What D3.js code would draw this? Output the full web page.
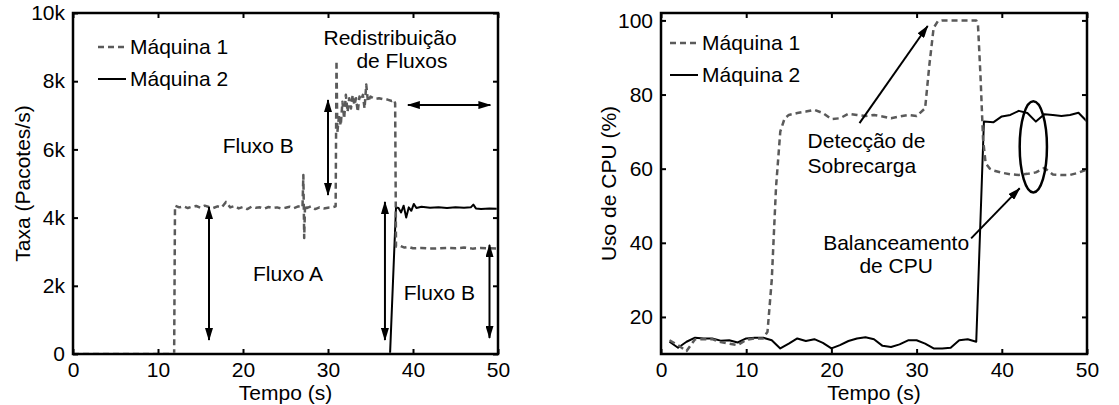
<!DOCTYPE html>
<html>
<head>
<meta charset="utf-8">
<script src="https://cdn.jsdelivr.net/npm/d3@7"></script>
<style>
  body { margin: 0; background: #fff; }
  svg text { font-family: "Liberation Sans", Arial, sans-serif; font-size: 21px; fill: #000; }
</style>
</head>
<body>
<script>
/* two panels: packet rate and CPU use per machine */

// ---- left panel: rate (packets/s) ----
var rateT1 = [0, 11.9, 12, 12.5, 13, 13.5, 14, 14.5, 15, 15.5, 16, 16.5, 17, 17.5, 18, 18.5, 19, 19.5, 20,
  20.5, 21, 21.5, 22, 22.5, 23, 23.5, 24, 24.5, 25, 25.5, 26, 26.5, 27, 27.1, 27.2, 27.3, 27.5, 28, 28.5, 29,
  29.5, 30, 30.5, 30.9, 31, 31.1, 31.3, 31.5, 31.7, 31.9, 32.1, 32.3, 32.5, 32.7, 32.9, 33.1, 33.3, 33.5,
  33.7, 33.9, 34.1, 34.3, 34.5, 34.7, 35, 35.5, 36, 36.5, 37, 37.5, 37.8, 37.9, 38, 38.5, 39, 39.5, 40, 41,
  42, 43, 44, 45, 46, 47, 48, 49, 50];
var rateM1 = [0, 0, 4350, 4300, 4330, 4280, 4320, 4340, 4290, 4350, 4310, 4280, 4330, 4300, 4460, 4300, 4340, 4270, 4310,
  4250, 4320, 4290, 4300, 4260, 4310, 4280, 4300, 4270, 4290, 4320, 4280, 4330, 4300, 5250, 3400, 4380, 4280, 4330, 4250, 4300,
  4270, 4290, 4300, 4330, 8600, 6500, 7000, 6700, 7400, 6900, 7600, 7100, 7500, 7200, 7600, 7300, 7500, 7100,
  7550, 7450, 7600, 7200, 7900, 7400, 7550, 7480, 7500, 7470, 7460, 7420, 7450, 7350, 3150, 3170, 3120, 3140, 3100, 3110,
  3090, 3100, 3110, 3100, 3120, 3090, 3110, 3100, 3090];

var rateT2 = [0, 37.3, 38, 38.3, 38.6, 38.9, 39.2, 39.5, 39.8, 40.1, 40.4, 41, 42, 43, 44, 45, 46, 46.8, 47.1, 47.4, 48, 49, 50];
var rateM2 = [0, 0, 4300, 4280, 4150, 4350, 4000, 4300, 4200, 4400, 4280, 4320, 4290, 4300, 4280, 4300, 4290, 4300, 4380, 4270, 4250, 4270, 4260];

var rateTicks = [0, 2000, 4000, 6000, 8000, 10000];
var rateTickLabels = ["0", "2k", "4k", "6k", "8k", "10k"];

// double arrows [t1, v1, t2, v2]
var rateArrows = [
  [16, 410, 16, 4310],
  [30, 4660, 30, 7450],
  [36.7, 410, 36.7, 4460],
  [49, 470, 49, 3200],
  [39.4, 7300, 49.1, 7300]
];
// labels [text, t, v] (centre, baseline)
var rateLabels = [
  ["Redistribuição", 37.3, 9060],
  ["de Fluxos", 38.7, 8380],
  ["Fluxo B", 21.8, 5900],
  ["Fluxo A", 25.3, 2140],
  ["Fluxo B", 43.1, 1580]
];

// ---- right panel: CPU use (%) ----
var cpuT1 = [1, 2, 3, 4, 5, 6, 7, 8, 9, 10, 11, 12, 12.5, 13, 13.5, 14, 14.5, 15, 16, 17, 18, 19, 20, 21, 22, 23, 24,
  25, 26, 27, 28, 29, 30, 31, 31.5, 32, 32.5, 33, 34, 35, 36, 37, 37.2, 37.5, 37.8, 38.1, 38.6, 39, 40, 41, 42, 43, 44,
  45, 46, 47, 48, 49, 50];
var cpuM1 = [13.7, 12.4, 10.8, 14.0, 14.0, 14.0, 13.2, 12.8, 12.4, 13.8, 14.2, 14.2, 16, 30, 55, 70, 73.5, 74.5, 75, 75.4,
  75.9, 75, 73.4, 73.6, 74.8, 74.5, 74.2, 74.5, 74.1, 73.6, 74.1, 74.5, 74.2, 76.3, 88, 98, 99.8, 100, 100, 100, 100, 100,
  99, 85, 68, 61.5, 60, 59.5, 58.9, 58.5, 58.3, 58.6, 59, 60.2, 58.4, 58.3, 58.3, 58.9, 59.8];

var cpuT2 = [1, 2, 3, 4, 5, 6, 7, 8, 9, 10, 11, 12, 13, 14, 15, 16, 17, 18, 19, 20, 21, 22, 23, 24, 25, 26, 27, 28, 29,
  30, 31, 32, 33, 34, 35, 36, 37, 37.9, 39, 40, 41, 42, 43, 44, 45, 46, 47, 48, 49, 50];
var cpuM2 = [13.3, 11.7, 13.3, 14.4, 14.2, 14.2, 13.6, 13.7, 13.1, 14.2, 14.4, 14.4, 13.7, 11.5, 12.8, 14.2, 13.5, 14.0,
  13.0, 11.5, 12.4, 13.5, 14.2, 14.5, 14.0, 12.2, 11.9, 12.6, 13.7, 13.7, 12.8, 11.5, 11.5, 11.7, 13.7, 14.0, 13.3, 72.7,
  72.5, 74.1, 74.5, 75.6, 75.0, 72.7, 74.7, 74.5, 74.2, 74.5, 75.1, 72.7];

var cpuTicks = [20, 40, 60, 80, 100];
var cpuTickLabels = ["20", "40", "60", "80", "100"];

var cpuArrows = [
  [23.3, 72.3, 31.3, 98.5],
  [36.4, 41.2, 42.1, 54.7]
];
var cpuEllipse = [43.7, 65.9, 1.6, 12.3]; // centre t, v, radius t, v
var cpuLabels = [
  ["Detecção de", 17.2, 65.6, "start"],
  ["Sobrecarga", 17.2, 58.8, "start"],
  ["Balanceamento", 27.6, 38.1, "middle"],
  ["de CPU", 27.6, 31.8, "middle"]
];

var timeTicks = [0, 10, 20, 30, 40, 50];
var seriesNames = ["Máquina 1", "Máquina 2"];

var svg = d3.select("body").append("svg")
    .attr("width", 1119)
    .attr("height", 405);

var defs = svg.append("defs");
defs.append("marker")
    .attr("id", "head")
    .attr("markerUnits", "userSpaceOnUse")
    .attr("viewBox", "0 0 13 8")
    .attr("refX", 12).attr("refY", 4)
    .attr("markerWidth", 13).attr("markerHeight", 8)
    .attr("orient", "auto-start-reverse")
    .append("path")
    .attr("d", "M0,0 L13,4 L0,8 Z")
    .attr("fill", "#000");

var GRAY = "#5a5a5a";

function panel(id, box, yDomain, yTitle, yTitleX, legendX, legendY) {
    var x = d3.scaleLinear().domain([0, 50]).range([box.left, box.right]);
    var y = d3.scaleLinear().domain(yDomain).range([box.bottom, box.top]);
    var g = svg.append("g");

    // clip a bit inside the frame so the zero lines vanish under the axis, as in the original
    defs.append("clipPath").attr("id", id)
        .append("rect")
        .attr("x", box.left + 1.3).attr("y", box.top + 1.3)
        .attr("width", box.right - box.left - 2.6).attr("height", box.bottom - box.top - 2.6);
    var plot = g.append("g").attr("clip-path", "url(#" + id + ")");
    var notes = g.append("g");

    g.append("text")
        .attr("x", (box.left + box.right) / 2).attr("y", 400)
        .attr("text-anchor", "middle")
        .text("Tempo (s)");
    g.append("text")
        .attr("transform", "translate(" + yTitleX + "," + ((box.top + box.bottom) / 2) + ") rotate(-90)")
        .attr("text-anchor", "middle")
        .attr("dominant-baseline", "central")
        .attr("font-size", 22)
        .text(yTitle);

    // legend
    [0, 1].forEach(function (i) {
        var ly = legendY + i * 32;
        g.append("line")
            .attr("x1", legendX).attr("x2", legendX + 28)
            .attr("y1", ly).attr("y2", ly)
            .attr("stroke", i == 0 ? GRAY : "#000")
            .attr("stroke-width", i == 0 ? 2.5 : 2)
            .attr("stroke-dasharray", i == 0 ? "6,4" : null);
        g.append("text")
            .attr("x", legendX + 32).attr("y", ly + 7)
            .text(seriesNames[i]);
    });
    return { g: plot, notes: notes, top: g, x: x, y: y, box: box };
}

function drawFrame(p, yTicks, yTickLabels) {
    var g = p.top.append("g"), box = p.box, x = p.x, y = p.y;
    g.append("g").attr("transform", "translate(0," + box.bottom + ")")
        .call(d3.axisBottom(x).tickValues(timeTicks).tickSizeInner(-5).tickSizeOuter(0).tickPadding(8));
    g.append("g").attr("transform", "translate(0," + box.top + ")")
        .call(d3.axisTop(x).tickValues(timeTicks).tickSizeInner(-5).tickSizeOuter(0).tickFormat(""));
    g.append("g").attr("transform", "translate(" + box.left + ",0)")
        .call(d3.axisLeft(y).tickValues(yTicks).tickSizeInner(-5).tickSizeOuter(0).tickPadding(8)
            .tickFormat(function (d, i) { return yTickLabels[i]; }));
    g.append("g").attr("transform", "translate(" + box.right + ",0)")
        .call(d3.axisRight(y).tickValues(yTicks).tickSizeInner(-5).tickSizeOuter(0).tickFormat(""));
    g.selectAll(".domain").remove();
    g.selectAll(".tick line").attr("stroke", "#000").attr("stroke-width", 2);
    g.selectAll(".tick text").attr("font-size", 20.5).attr("font-family", "Liberation Sans, Arial, sans-serif").attr("fill", "#000");
    g.append("rect")
        .attr("x", box.left).attr("y", box.top)
        .attr("width", box.right - box.left).attr("height", box.bottom - box.top)
        .attr("fill", "none").attr("stroke", "#000").attr("stroke-width", 2.5);
}

function drawSeries(p, ts, vs, dashed) {
    var line = d3.line()
        .x(function (d) { return p.x(d[0]); })
        .y(function (d) { return p.y(d[1]); });
    p.g.append("path")
        .datum(d3.zip(ts, vs))
        .attr("d", line)
        .attr("fill", "none")
        .attr("stroke", dashed ? GRAY : "#000")
        .attr("stroke-width", dashed ? 2.5 : 2)
        .attr("stroke-dasharray", dashed ? "6,4" : null)
        .attr("stroke-linejoin", "round");
}

function drawArrows(p, arrows, both) {
    arrows.forEach(function (a) {
        p.notes.append("line")
            .attr("x1", p.x(a[0])).attr("y1", p.y(a[1]))
            .attr("x2", p.x(a[2])).attr("y2", p.y(a[3]))
            .attr("stroke", "#000").attr("stroke-width", 2)
            .attr("marker-end", "url(#head)")
            .attr("marker-start", both ? "url(#head)" : null);
    });
}

// left
var left = panel("clipL", { left: 73, right: 498, top: 13, bottom: 354 }, [0, 10000], "Taxa (Pacotes/s)", 22, 98, 47);
drawSeries(left, rateT2, rateM2, false);
drawSeries(left, rateT1, rateM1, true);
drawArrows(left, rateArrows, true);
rateLabels.forEach(function (l) {
    left.notes.append("text")
        .attr("x", left.x(l[1])).attr("y", left.y(l[2]))
        .attr("text-anchor", "middle")
        .text(l[0]);
});
drawFrame(left, rateTicks, rateTickLabels);

// right
var right = panel("clipR", { left: 661, right: 1087, top: 13, bottom: 354 }, [10, 102], "Uso de CPU (%)", 608, 670, 43);
drawSeries(right, cpuT2, cpuM2, false);
drawSeries(right, cpuT1, cpuM1, true);
drawArrows(right, cpuArrows, false);
right.notes.append("ellipse")
    .attr("cx", right.x(cpuEllipse[0])).attr("cy", right.y(cpuEllipse[1]))
    .attr("rx", right.x(cpuEllipse[0] + cpuEllipse[2]) - right.x(cpuEllipse[0]))
    .attr("ry", right.y(cpuEllipse[1] - cpuEllipse[3]) - right.y(cpuEllipse[1]))
    .attr("fill", "none").attr("stroke", "#000").attr("stroke-width", 2.5);
cpuLabels.forEach(function (l) {
    right.notes.append("text")
        .attr("x", right.x(l[1])).attr("y", right.y(l[2]))
        .attr("text-anchor", l[3])
        .text(l[0]);
});
drawFrame(right, cpuTicks, cpuTickLabels);
</script>
</body>
</html>
